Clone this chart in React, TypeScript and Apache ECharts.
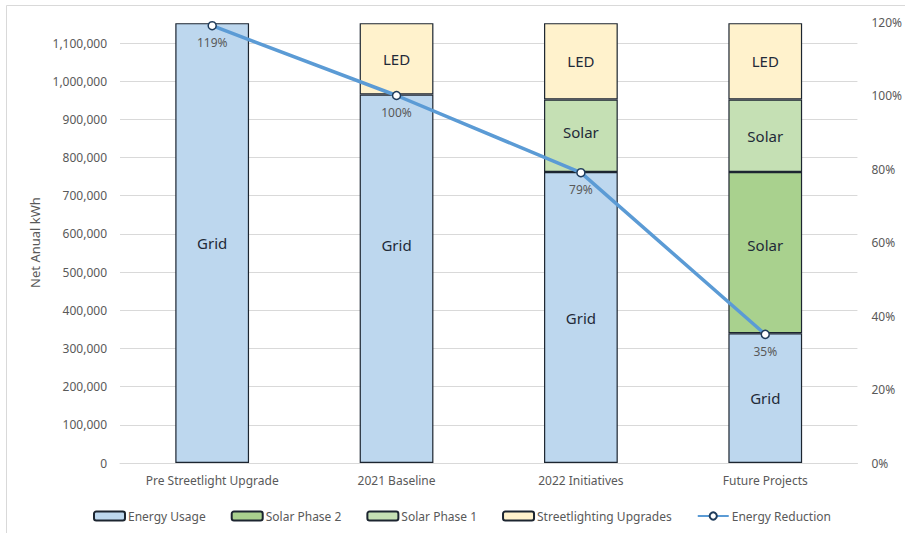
import React, { useEffect, useRef } from "react";
import * as echarts from "echarts";

const categories = ["Pre Streetlight Upgrade", "2021 Baseline", "2022 Initiatives", "Future Projects"];
const energyUsage = [1152000, 965000, 762000, 340000];
const solarPhase2 = [null, null, null, 422000];
const solarPhase1 = [null, null, 190000, 190000];
const streetlighting = [null, 187000, 200000, 200000];
const energyReduction = [119, 100, 79, 35];

const gridLabels = ["Grid", "Grid", "Grid", "Grid"];
const gridLabelOffsets = [0, -34, 0, 0];
const solar2LabelOffsets = [0, 0, 0, -8];
const solar1LabelOffsets = [0, 0, -4, 0];

const FONT = "Noto Sans";
const GRAY = "#595959";
const BORDER = "#1c2530";
const LABEL_DARK = "#1f2a38";

export default function App() {
  const ref = useRef<HTMLDivElement>(null);
  useEffect(() => {
    if (!ref.current) return;
    const chart = echarts.init(ref.current, undefined, { renderer: "svg" });
    const barLabel = (text: string) => ({
      show: true,
      position: "inside",
      formatter: text,
      color: LABEL_DARK,
      fontSize: 15,
      fontFamily: FONT,
    });
    const option: any = {
      animation: false,
      backgroundColor: "#ffffff",
      textStyle: { fontFamily: FONT },
      graphic: [
        {
          type: "polyline",
          shape: { points: [[6.5, 533], [6.5, 5.5], [905, 5.5]] },
          style: { stroke: "#d9d9d9", lineWidth: 1, fill: null },
          silent: true,
        },
      ],
      grid: { left: 120, right: 47, top: 22, bottom: 70 },
      legend: {
        left: 88,
        top: 505,
        itemWidth: 31,
        itemHeight: 9,
        itemGap: 25,
        textStyle: { color: GRAY, fontSize: 12, fontFamily: FONT, padding: [0, 0, 0, -2] },
        data: ["Energy Usage", "Solar Phase 2", "Solar Phase 1", "Streetlighting Upgrades", "Energy Reduction"],
      },
      xAxis: {
        type: "category",
        data: categories,
        axisLine: { show: true, lineStyle: { color: "#d9d9d9", width: 1 } },
        axisTick: { show: false },
        axisLabel: { color: GRAY, fontSize: 12, fontFamily: FONT, margin: 11 },
      },
      yAxis: [
        {
          type: "value",
          min: 0,
          max: 1155000,
          interval: 100000,
          name: "Net Anual kWh",
          nameLocation: "middle",
          nameGap: 76,
          nameTextStyle: { color: GRAY, fontSize: 13, fontFamily: FONT },
          axisLine: { show: false },
          axisTick: { show: false },
          axisLabel: {
            color: GRAY,
            fontSize: 12,
            fontFamily: FONT,
            margin: 13,
            showMaxLabel: false,
            formatter: (v: number) => (v % 100000 === 0 ? v.toLocaleString("en-US") : ""),
          },
          splitLine: { show: true, showMaxLine: false, lineStyle: { color: "#d9d9d9", width: 1 } },
        },
        {
          type: "value",
          min: 0,
          max: 120,
          interval: 20,
          axisLine: { show: false },
          axisTick: { show: false },
          splitLine: { show: false },
          axisLabel: { color: GRAY, fontSize: 12, fontFamily: FONT, margin: 14, formatter: "{value}%" },
        },
      ],
      series: [
        {
          name: "Energy Usage",
          type: "bar",
          stack: "kwh",
          barWidth: "40%",
          data: energyUsage.map((v, i) => ({
            value: v,
            label: { ...barLabel(gridLabels[i]), offset: [0, gridLabelOffsets[i]] },
          })),
          itemStyle: { color: "#bdd7ee", borderColor: BORDER, borderWidth: 1.2 },
        },
        {
          name: "Solar Phase 2",
          type: "bar",
          stack: "kwh",
          data: solarPhase2.map((v, i) => ({
            value: v,
            label: { ...barLabel("Solar"), offset: [0, solar2LabelOffsets[i]] },
          })),
          itemStyle: { color: "#a9d18e", borderColor: BORDER, borderWidth: 1.2 },
        },
        {
          name: "Solar Phase 1",
          type: "bar",
          stack: "kwh",
          data: solarPhase1.map((v, i) => ({
            value: v,
            label: { ...barLabel("Solar"), offset: [0, solar1LabelOffsets[i]] },
          })),
          itemStyle: { color: "#c5e0b4", borderColor: BORDER, borderWidth: 1.2 },
        },
        {
          name: "Streetlighting Upgrades",
          type: "bar",
          stack: "kwh",
          data: streetlighting,
          label: barLabel("LED"),
          itemStyle: { color: "#fff2cc", borderColor: BORDER, borderWidth: 1.2 },
        },
        {
          name: "Energy Reduction",
          type: "line",
          yAxisIndex: 1,
          data: energyReduction,
          symbol: "circle",
          symbolSize: 8,
          lineStyle: { color: "#5b9bd5", width: 3.5 },
          itemStyle: { color: "#ffffff", borderColor: "#1f3b5a", borderWidth: 1.5 },
          label: {
            show: true,
            position: "bottom",
            distance: 6,
            formatter: "{c}%",
            color: GRAY,
            fontSize: 12,
            fontFamily: FONT,
          },
          z: 5,
        },
      ],
    };
    chart.setOption(option);
    return () => chart.dispose();
  }, []);
  return <div ref={ref} style={{ width: 905, height: 533, position: "absolute", left: 0, top: 0 }} />;
}
